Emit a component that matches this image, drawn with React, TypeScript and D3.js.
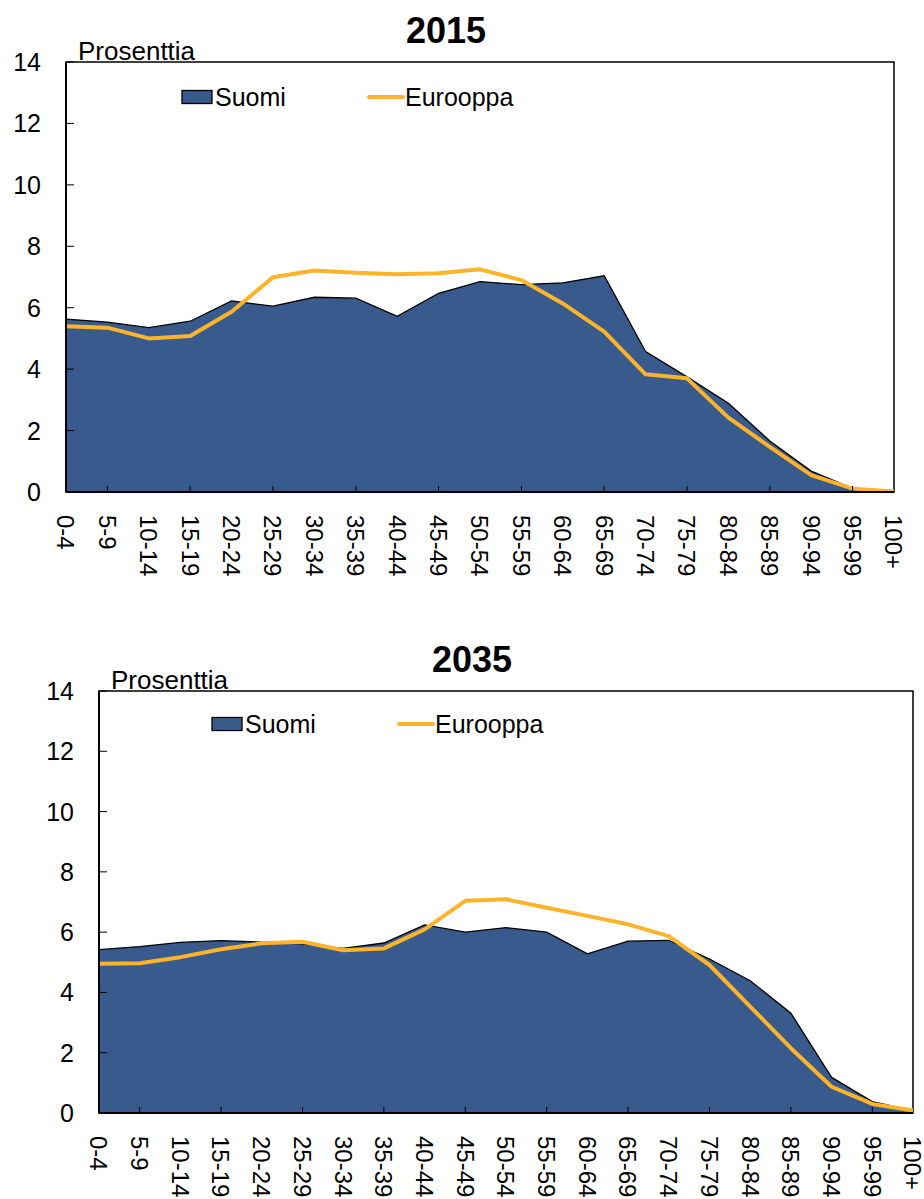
import React from "react";
import * as d3 from "d3";

const ageGroups = ["0-4","5-9","10-14","15-19","20-24","25-29","30-34","35-39","40-44","45-49","50-54","55-59","60-64","65-69","70-74","75-79","80-84","85-89","90-94","95-99","100+"];
const yTicks = [0, 2, 4, 6, 8, 10, 12, 14];

const suomi2015 = [5.63,5.53,5.35,5.56,6.22,6.05,6.34,6.31,5.72,6.47,6.85,6.75,6.81,7.04,4.57,3.75,2.89,1.66,0.68,0.12,0.02];
const eurooppa2015 = [5.40,5.35,5.00,5.08,5.87,6.99,7.21,7.14,7.09,7.12,7.25,6.90,6.14,5.22,3.83,3.70,2.42,1.47,0.55,0.11,0.02];

const suomi2035 = [5.42,5.52,5.66,5.72,5.67,5.61,5.46,5.64,6.24,6.00,6.15,6.00,5.28,5.70,5.73,5.11,4.39,3.31,1.18,0.38,0.08];
const eurooppa2035 = [4.95,4.97,5.17,5.43,5.63,5.68,5.40,5.46,6.09,7.04,7.09,6.81,6.54,6.26,5.87,4.91,3.53,2.15,0.87,0.30,0.08];

const FILL = "#385A8C";
const ORANGE = "#FDB32A";
const FONT = "'Liberation Sans', Arial, sans-serif";

interface ChartProps {
  title: string;
  suomi: number[];
  europe: number[];
  left: number;
  right: number;
  top: number;
  bottom: number;
  titleX: number;
  titleY: number;
  legendX: number;
  legendY: number;
}

function Chart(p: ChartProps) {
  const x = d3.scalePoint<string>().domain(ageGroups).range([p.left, p.right]);
  const y = d3.scaleLinear().domain([0, 14]).range([p.bottom, p.top]);
  const area = d3.area<number>()
    .x((_, i) => x(ageGroups[i]) as number)
    .y0(y(0))
    .y1((d) => y(d));
  const line = d3.line<number>()
    .x((_, i) => x(ageGroups[i]) as number)
    .y((d) => y(d));

  return (
    <g>
      <text x={p.titleX} y={p.titleY} textAnchor="middle" fontFamily={FONT} fontWeight="bold" fontSize={36} fill="#000">{p.title}</text>
      <text x={p.left + 12} y={p.top - 2} fontFamily={FONT} fontSize={26} fill="#000">Prosenttia</text>
      {/* frame */}
      <rect x={p.left} y={p.top} width={p.right - p.left} height={p.bottom - p.top} fill="none" stroke="#000" strokeWidth={1.5} />
      {/* area */}
      <path d={area(p.suomi) || ""} fill={FILL} stroke="none" />
      <path d={line(p.suomi) || ""} fill="none" stroke="#000" strokeWidth={1.3} />
      {/* europe */}
      <path d={line(p.europe) || ""} fill="none" stroke={ORANGE} strokeWidth={4} strokeLinejoin="round" />
      {/* axes */}
      <line x1={p.left} x2={p.left} y1={p.top} y2={p.bottom} stroke="#000" strokeWidth={2} />
      <line x1={p.left} x2={p.right} y1={p.bottom} y2={p.bottom} stroke="#000" strokeWidth={2} />
      {yTicks.map((t) => (
        <g key={t}>
          <line x1={p.left} x2={p.left + 8} y1={y(t)} y2={y(t)} stroke="#000" strokeWidth={1} />
          <text x={p.left - 25} y={y(t)} dy="0.36em" textAnchor="end" fontFamily={FONT} fontSize={25} fill="#000">{t}</text>
        </g>
      ))}
      {ageGroups.map((g, i) => (
        <g key={g}>
          {i % 2 === 1 && i < ageGroups.length - 1 ? (
            <line x1={x(g)} x2={x(g)} y1={p.bottom} y2={p.bottom - 6} stroke="#000" strokeWidth={1} />
          ) : null}
          <text
            transform={`translate(${x(g)},${p.bottom + 23}) rotate(90)`}
            dy="0.36em"
            textAnchor="start"
            fontFamily={FONT}
            fontSize={24}
            fill="#000"
          >{g}</text>
        </g>
      ))}
      {/* legend */}
      <rect x={p.legendX} y={p.legendY - 6.5} width={30} height={13} fill={FILL} stroke="#000" strokeWidth={1.3} />
      <text x={p.legendX + 33} y={p.legendY} dy="0.36em" fontFamily={FONT} fontSize={25} fill="#000">Suomi</text>
      <line x1={p.legendX + 187} x2={p.legendX + 221} y1={p.legendY} y2={p.legendY} stroke={ORANGE} strokeWidth={4} strokeLinecap="round" />
      <text x={p.legendX + 223} y={p.legendY} dy="0.36em" fontFamily={FONT} fontSize={25} fill="#000">Eurooppa</text>
    </g>
  );
}

export default function App() {
  return (
    <svg width={924} height={1199} style={{ position: "absolute", left: 0, top: 0, background: "#fff" }}>
      <rect x={0} y={0} width={924} height={1199} fill="#fff" />
      <Chart title="2015" suomi={suomi2015} europe={eurooppa2015}
        left={66} right={894} top={62} bottom={492}
        titleX={446} titleY={43} legendX={182} legendY={97} />
      <Chart title="2035" suomi={suomi2035} europe={eurooppa2035}
        left={99} right={913} top={691} bottom={1113}
        titleX={472} titleY={672} legendX={212} legendY={724} />
    </svg>
  );
}
